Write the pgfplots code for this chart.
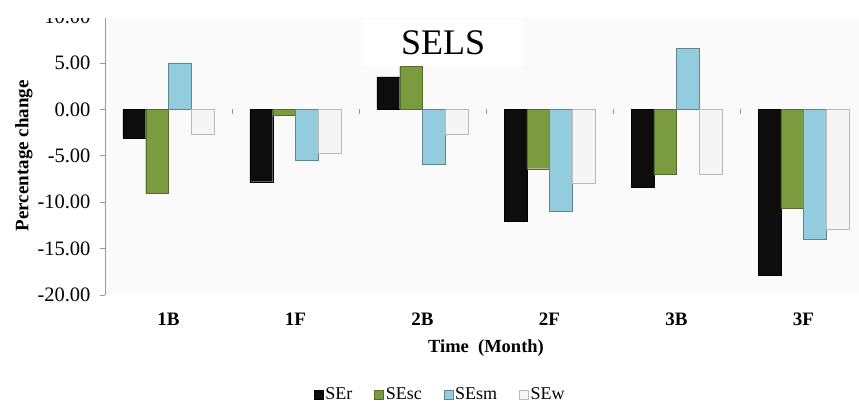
\documentclass[border=0pt]{standalone}
\usepackage{pgfplots}
\pgfplotsset{compat=1.18}
\usepackage{fontspec}
\setmainfont{Liberation Serif}
\definecolor{cr}{HTML}{0D0D0D}
\definecolor{csc}{HTML}{7B9B3F}
\definecolor{csm}{HTML}{93CDDD}
\definecolor{cw}{HTML}{F5F5F5}
\begin{document}
\begin{tikzpicture}
\begin{axis}[
  name=ax,
  scale only axis,
  width=762pt, height=278.5pt,
  xmin=-0.5, xmax=5.5,
  ymin=-20, ymax=10,
  ybar=0pt, bar width=22.75pt,
  axis x line*=bottom,
  x axis line style={draw=none},
  xtick style={draw=none},
  xtick={0,1,2,3,4,5},
  xticklabels={1B,1F,2B,2F,3B,3F},
  xticklabel style={font=\fontsize{19}{22}\selectfont\bfseries, yshift=-9pt},
  axis y line*=left,
  y axis line style={draw=gray!80, line width=0.6pt, -},
  ytick={-20,-15,...,10},
  ytick style={draw=gray!80, line width=0.6pt},
  tick align=outside,
  major tick length=5pt,
  yticklabel style={font=\fontsize{20.5}{22}\selectfont, xshift=-6pt, /pgf/number format/.cd, fixed, fixed zerofill, precision=2, assume math mode=true},
  axis background/.style={fill=black!2},
  ylabel={\fontsize{19}{20}\selectfont\bfseries Percentage change},
  ylabel style={yshift=-2pt},
  xlabel={\fontsize{18.5}{20}\selectfont\bfseries Time~~(Month)},
  xlabel style={yshift=-7pt},
  clip=false,
  legend columns=4,
  legend style={draw=none, fill=none, at={(0.44,-0.358)}, anchor=center,
    font=\fontsize{18}{19}\selectfont, inner sep=0pt,
    /tikz/every even column/.append style={column sep=20pt}},
  legend image code/.code={\path[#1] (0pt,-4.5pt) rectangle (9pt,4.5pt);},
]
\addplot[fill=cr, draw=black] coordinates {(0,-3.1) (1,-7.8) (2,3.5) (3,-12.1) (4,-8.4) (5,-17.9)};
\addplot[fill=csc, draw=csc!70!black] coordinates {(0,-9.0) (1,-0.6) (2,4.6) (3,-6.4) (4,-7.0) (5,-10.7)};
\addplot[fill=csm, draw=csm!65!black] coordinates {(0,5.0) (1,-5.5) (2,-5.9) (3,-11.0) (4,6.6) (5,-14.0)};
\addplot[fill=cw, draw=gray!55] coordinates {(0,-2.7) (1,-4.7) (2,-2.7) (3,-8.0) (4,-7.0) (5,-12.9)};
\legend{SEr,SEsc,SEsm,SEw}
\pgfplotsinvokeforeach{0.5,1.5,2.5,3.5,4.5}{\draw[gray!80, line width=0.6pt] (axis cs:#1,0) -- ([yshift=-5pt]axis cs:#1,0);}
\node[fill=white, inner sep=0pt, minimum width=160pt, minimum height=47pt, font=\fontsize{36}{40}\selectfont] at (rel axis cs:0.4436,0.905) {SELS};
\end{axis}
\fill[white] ([shift={(-105pt,295pt)}]ax.south west) rectangle ([shift={(754pt,277pt)}]ax.south west);
\pgfresetboundingbox
\useasboundingbox ([shift={(-105pt,-109pt)}]ax.south west) rectangle ([shift={(754pt,295pt)}]ax.south west);
\end{tikzpicture}
\end{document}
